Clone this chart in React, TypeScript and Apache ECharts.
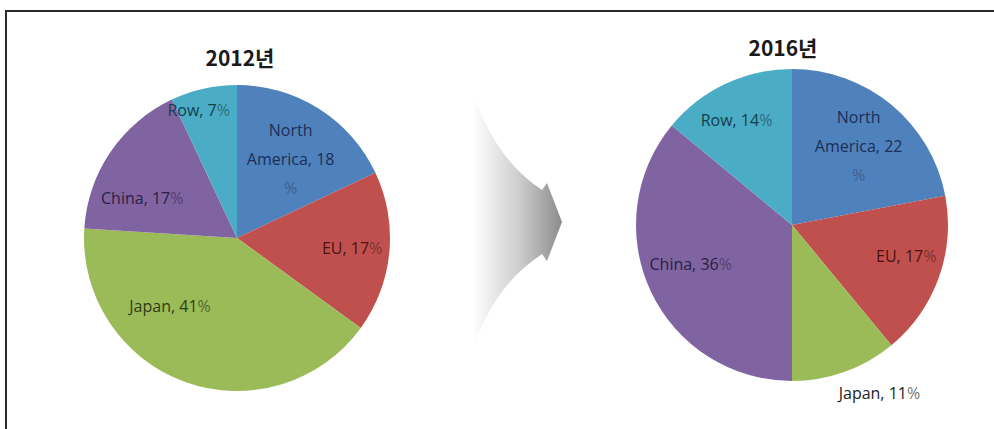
import React, { useEffect, useRef } from "react";
import * as echarts from "echarts";

// ---- data ----
const categories = ["North America", "EU", "Japan", "China", "Row"];
const share2012 = [18, 17, 41, 17, 7];
const share2016 = [22, 17, 11, 36, 14];
const titles = ["2012년", "2016년"];

// ---- styles ----
const sliceColors = ["#4F81BD", "#C0504D", "#9BBB59", "#8064A2", "#4BACC6"];
const labelColors = ["#1c2f57", "#4a1312", "#2f3b14", "#2b2042", "#143f4c"];
const pctColors = ["#40608f", "#7e3230", "#56682e", "#54426f", "#2e6d7e"];
const labelOffsets2012: number[][] = [[11, -12], [36, 3], [-40, -7], [-29, 5], [-21, -50]];
const labelOffsets2016: number[][] = [[15, -17], [38, 4], [60, 92], [-28, 5], [-21, -32]];
const outsideLabel2016 = [false, false, true, false, false];

const arrowD =
  "M 473 93 C 486 132, 508 168, 542 190 L 547 183 L 562 222 L 547 261 L 542 254 C 508 276, 486 310, 473 349 Z";
echarts.graphic.registerShape("arrowShape", echarts.graphic.extendPath(arrowD, {}));

const labelFont = "'Open Sans', 'Noto Sans', sans-serif";

function buildRich() {
  const rich: Record<string, any> = {};
  sliceColors.forEach((_, i) => {
    rich["t" + i] = { color: labelColors[i], fontSize: 16, fontFamily: labelFont, lineHeight: 29 };
    rich["p" + i] = { color: pctColors[i], fontSize: 16, fontFamily: labelFont, lineHeight: 29 };
  });
  rich["to"] = { color: "#222222", fontSize: 16, fontFamily: labelFont, lineHeight: 29 };
  rich["po"] = { color: "#777777", fontSize: 16, fontFamily: labelFont, lineHeight: 29 };
  return rich;
}

function makeSeries(values: number[], center: number[], radius: number, offsets: number[][], outside: boolean[]) {
  return {
    type: "pie",
    center,
    radius,
    startAngle: 90,
    clockwise: true,
    silent: true,
    avoidLabelOverlap: false,
    labelLine: { show: false },
    itemStyle: { borderWidth: 0 },
    label: {
      show: true,
      position: "inside",
      rich: buildRich(),
      formatter: (p: any) => {
        const i = p.dataIndex;
        const t = outside[i] ? "to" : "t" + i;
        const pc = outside[i] ? "po" : "p" + i;
        if (p.name === "North America") {
          return `{${t}|North}\n{${t}|America, ${p.value}}\n{${pc}|%}`;
        }
        return `{${t}|${p.name}, ${p.value}}{${pc}|%}`;
      },
    },
    data: categories.map((name, i) => ({
      name,
      value: values[i],
      itemStyle: { color: sliceColors[i] },
      label: { offset: offsets[i] },
    })),
  };
}

export default function App() {
  const ref = useRef<HTMLDivElement>(null);
  useEffect(() => {
    const chart = echarts.init(ref.current!, null, { renderer: "svg" });
    chart.setOption({
      animation: false,
      backgroundColor: "#ffffff",
      series: [
        makeSeries(share2012, [237, 238], 153, labelOffsets2012, [false, false, false, false, false]),
        makeSeries(share2016, [792, 225], 156, labelOffsets2016, outsideLabel2016),
      ],
      graphic: [
        {
          type: "polyline",
          shape: { points: [[6, 429], [6, 11], [994, 11]] },
          style: { stroke: "#2b2b2b", lineWidth: 2, fill: "none" },
          silent: true,
        },
        {
          type: "arrowShape",
          x: 0,
          y: 0,
          style: {
            fill: new echarts.graphic.LinearGradient(0, 0, 1, 0, [
              { offset: 0, color: "#ffffff" },
              { offset: 0.5, color: "#cfcfcf" },
              { offset: 1, color: "#8c8c8c" },
            ]),
          },
          silent: true,
        },
        {
          type: "text",
          x: 240,
          y: 57,
          style: {
            text: titles[0],
            align: "center",
            verticalAlign: "middle",
            fontSize: 21,
            fontWeight: "bold",
            fontFamily: "'Noto Sans CJK KR', sans-serif",
            fill: "#1a1a1a",
          },
        },
        {
          type: "text",
          x: 783,
          y: 47,
          style: {
            text: titles[1],
            align: "center",
            verticalAlign: "middle",
            fontSize: 21,
            fontWeight: "bold",
            fontFamily: "'Noto Sans CJK KR', sans-serif",
            fill: "#1a1a1a",
          },
        },
      ],
    });
    return () => chart.dispose();
  }, []);
  return (
    <div
      ref={ref}
      style={{ position: "absolute", left: 0, top: 0, width: 994, height: 429, background: "#fff" }}
    />
  );
}
